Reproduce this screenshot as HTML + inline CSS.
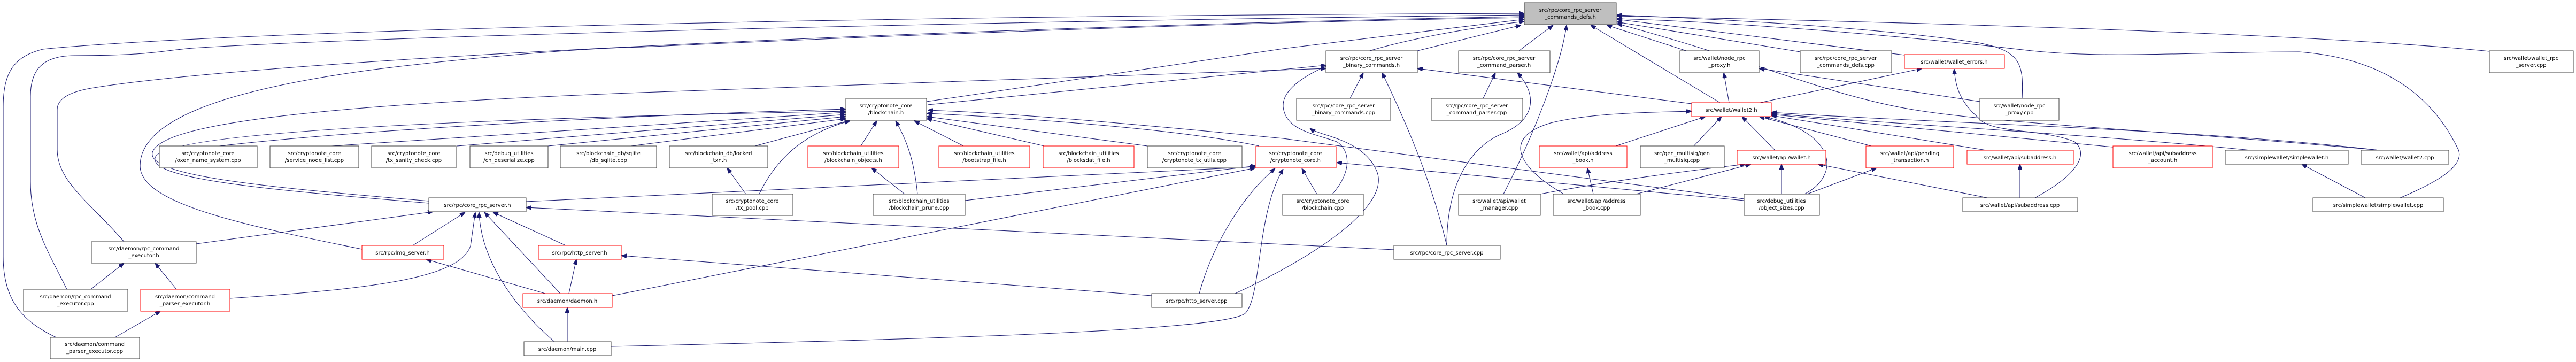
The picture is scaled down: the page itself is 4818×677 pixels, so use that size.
<!DOCTYPE html>
<html><head><meta charset="utf-8"><style>
html,body{margin:0;padding:0;background:#fff;}
svg{display:block;}
text{font-family:"DejaVu Sans","Liberation Sans",sans-serif;font-size:10px;fill:#000;}
.e{fill:none;stroke:#191970;stroke-width:1;}
.n{fill:#fff;stroke:#404040;stroke-width:1;}
.r{fill:#fff;stroke:#ff0000;stroke-width:1;}
</style></head><body>
<svg width="4818" height="677" viewBox="0 0 4818 677" xmlns="http://www.w3.org/2000/svg">
<defs><marker id="a" markerUnits="userSpaceOnUse" markerWidth="10" markerHeight="8" refX="10" refY="4" orient="auto"><path d="M0,0 L10,4 L0,8 z" fill="#191970" stroke="#191970"/></marker></defs>
<g class="e" marker-end="url(#a)">
<!-- to commands_defs.h -->
<path d="M2651,95 L2845,47"/>
<path d="M2841,95 L2905,47"/>
<path d="M3154,95 L3005,47"/>
<path d="M3367,97 L3024,41"/>
<path d="M3217,192 L2975,47"/>
<path d="M2812,363 C2870,250 2920,120 2930,47"/>
<path d="M3562,103 L3024,36"/>
<path d="M4656,96 C4300,60 3500,40 3024,30"/>
<path d="M4489,370 C4560,340 4610,310 4598,280 C4560,200 4480,110 4300,97 C4100,97 3950,110 3800,95 C3500,60 3200,40 3024,35"/>
<path d="M3782,184 C3785,120 3780,95 3700,80 C3500,50 3200,35 3024,28"/>
<path d="M4451,281 C4000,240 3700,230 3550,200 C3400,170 3300,120 3024,44"/>
<path d="M1733,190 L2400,91 L2851,36"/>
<path d="M105,631 C40,600 6,560 6,480 L6,200 C6,130 30,105 80,92 C400,60 1500,30 2851,25"/>
<path d="M125,541 C90,470 57,420 57,340 L57,180 C57,130 80,104 140,104 C280,104 300,95 360,90 C700,68 1800,40 2851,28"/>
<path d="M232,452 C170,380 107,340 107,280 L107,205 C107,185 130,172 170,165 C500,110 1800,50 2851,31"/>
<path d="M677,466 C450,420 262,380 262,310 C262,230 400,170 700,130 C900,105 1100,90 1200,88 C1800,60 2400,40 2851,33"/>
<path d="M2492,363 C2530,320 2525,280 2500,265 C2460,250 2405,245 2400,200 C2395,130 2600,70 2851,40"/>
<path d="M2310,549 C2480,470 2600,380 2575,320 C2550,260 2470,255 2450,240"/>
<!-- to binary_commands.h -->
<path d="M1735,196 L2480,122"/>
<path d="M802,376 C500,350 275,330 285,285 C300,240 500,200 1200,173 L2480,128"/>
<path d="M2525,184 L2550,136"/>
<path d="M2706,459 C2680,350 2640,250 2585,136"/>
<path d="M3164,194 L2651,128"/>
<!-- command_parser.h -->
<path d="M2774,184 L2797,136"/>
<path d="M2706,459 C2706,330 2760,270 2810,250 C2880,220 2870,170 2838,136"/>
<!-- blockchain.h -->
<path d="M802,380 C500,355 280,335 290,295 C300,255 700,225 1582,208"/>
<path d="M410,273 C700,240 1200,215 1582,204"/>
<path d="M620,273 L1582,210"/>
<path d="M855,273 L1582,214"/>
<path d="M1025,273 L1582,218"/>
<path d="M1180,273 L1582,222"/>
<path d="M1412,273 L1590,225"/>
<path d="M1420,363 C1450,300 1500,250 1590,226"/>
<path d="M1610,273 L1640,226"/>
<path d="M1716,363 C1710,300 1695,260 1675,226"/>
<path d="M1802,273 L1710,226"/>
<path d="M1953,273 L1733,222"/>
<path d="M2146,273 L1733,218"/>
<path d="M2355,273 C2200,240 1900,220 1733,212"/>
<path d="M3262,372 L2400,259 C2100,230 1900,212 1735,206"/>
<path d="M1395,363 L1360,314"/>
<path d="M1692,363 L1630,314"/>
<!-- cryptonote_core.h -->
<path d="M984,377 L2348,312"/>
<path d="M1145,553 L2348,314"/>
<path d="M1805,375 L2350,310"/>
<path d="M2243,549 C2270,450 2330,360 2385,315"/>
<path d="M2463,363 L2435,315"/>
<path d="M3262,375 L2500,304"/>
<path d="M1143,648 C1700,635 2300,620 2330,585 C2360,550 2350,400 2400,316"/>
<!-- core_rpc_server.h -->
<path d="M2607,467 L984,388"/>
<path d="M367,456 L810,396"/>
<path d="M772,459 L870,397"/>
<path d="M430,558 C700,540 860,520 880,460 L889,397"/>
<path d="M1037,639 C980,590 900,500 896,397"/>
<path d="M1048,549 L906,397"/>
<path d="M1058,459 L922,397"/>
<path d="M170,541 L232,492"/>
<path d="M330,541 L290,492"/>
<path d="M215,631 L300,582"/>
<path d="M1020,549 L797,485"/>
<path d="M1064,549 L1078,485"/>
<path d="M1061,639 L1061,575"/>
<path d="M2154,553 L1162,478"/>
<!-- wallet2.h etc -->
<path d="M3234,192 L3224,136"/>
<path d="M3292,192 L3595,128"/>
<path d="M3703,190 L3290,128"/>
<path d="M3022,273 L3190,218"/>
<path d="M3168,273 L3220,218"/>
<path d="M3320,281 L3258,218"/>
<path d="M3500,273 L3290,218"/>
<path d="M3375,363 C3440,330 3440,250 3300,218"/>
<path d="M2925,363 C2850,320 2800,260 2900,230 C2980,210 3100,210 3164,208"/>
<path d="M3715,281 L3313,216"/>
<path d="M3952,275 L3313,214"/>
<path d="M4210,281 C3900,250 3500,230 3313,212"/>
<path d="M4450,281 C4100,240 3600,230 3313,210"/>
<path d="M3806,370 C3880,330 3910,290 3880,265 C3820,240 3720,250 3700,220 C3665,190 3657,160 3655,129"/>
<path d="M2881,363 C3000,340 3150,320 3265,307"/>
<path d="M2980,363 L2969,314"/>
<path d="M3060,363 L3275,307"/>
<path d="M3332,363 L3332,307"/>
<path d="M3380,363 L3510,314"/>
<path d="M3717,370 L3400,307"/>
<path d="M3778,370 L3778,307"/>
<path d="M4424,370 L4305,307"/>
</g>
<g>
<rect x="2851" y="5" width="172" height="41" fill="#bfbfbf" stroke="#404040"/><text x="2937" y="22" text-anchor="middle">src/rpc/core_rpc_server</text><text x="2937" y="35" text-anchor="middle">_commands_defs.h</text>
<rect class="n" x="2480" y="95" width="171" height="41"/><text x="2565" y="112" text-anchor="middle">src/rpc/core_rpc_server</text><text x="2565" y="125" text-anchor="middle">_binary_commands.h</text>
<rect class="n" x="2728" y="95" width="171" height="41"/><text x="2813" y="112" text-anchor="middle">src/rpc/core_rpc_server</text><text x="2813" y="125" text-anchor="middle">_command_parser.h</text>
<rect class="n" x="3142" y="95" width="148" height="41"/><text x="3216" y="112" text-anchor="middle">src/wallet/node_rpc</text><text x="3216" y="125" text-anchor="middle">_proxy.h</text>
<rect class="n" x="3367" y="95" width="171" height="41"/><text x="3452" y="112" text-anchor="middle">src/rpc/core_rpc_server</text><text x="3452" y="125" text-anchor="middle">_commands_defs.cpp</text>
<rect class="r" x="3562" y="102" width="187" height="26"/><text x="3655" y="119" text-anchor="middle">src/wallet/wallet_errors.h</text>
<rect class="n" x="4656" y="95" width="157" height="41"/><text x="4734" y="112" text-anchor="middle">src/wallet/wallet_rpc</text><text x="4734" y="125" text-anchor="middle">_server.cpp</text>
<rect class="n" x="1582" y="184" width="151" height="41"/><text x="1657" y="201" text-anchor="middle">src/cryptonote_core</text><text x="1657" y="214" text-anchor="middle">/blockchain.h</text>
<rect class="n" x="2425" y="184" width="176" height="41"/><text x="2513" y="201" text-anchor="middle">src/rpc/core_rpc_server</text><text x="2513" y="214" text-anchor="middle">_binary_commands.cpp</text>
<rect class="n" x="2677" y="184" width="171" height="41"/><text x="2762" y="201" text-anchor="middle">src/rpc/core_rpc_server</text><text x="2762" y="214" text-anchor="middle">_command_parser.cpp</text>
<rect class="r" x="3164" y="192" width="149" height="26"/><text x="3238" y="209" text-anchor="middle">src/wallet/wallet2.h</text>
<rect class="n" x="3703" y="184" width="148" height="41"/><text x="3777" y="201" text-anchor="middle">src/wallet/node_rpc</text><text x="3777" y="214" text-anchor="middle">_proxy.cpp</text>
<rect class="n" x="298" y="273" width="183" height="41"/><text x="389" y="290" text-anchor="middle">src/cryptonote_core</text><text x="389" y="303" text-anchor="middle">/oxen_name_system.cpp</text>
<rect class="n" x="505" y="273" width="166" height="41"/><text x="588" y="290" text-anchor="middle">src/cryptonote_core</text><text x="588" y="303" text-anchor="middle">/service_node_list.cpp</text>
<rect class="n" x="695" y="273" width="158" height="41"/><text x="774" y="290" text-anchor="middle">src/cryptonote_core</text><text x="774" y="303" text-anchor="middle">/tx_sanity_check.cpp</text>
<rect class="n" x="879" y="273" width="146" height="41"/><text x="952" y="290" text-anchor="middle">src/debug_utilities</text><text x="952" y="303" text-anchor="middle">/cn_deserialize.cpp</text>
<rect class="n" x="1048" y="273" width="180" height="41"/><text x="1138" y="290" text-anchor="middle">src/blockchain_db/sqlite</text><text x="1138" y="303" text-anchor="middle">/db_sqlite.cpp</text>
<rect class="n" x="1252" y="273" width="184" height="41"/><text x="1344" y="290" text-anchor="middle">src/blockchain_db/locked</text><text x="1344" y="303" text-anchor="middle">_txn.h</text>
<rect class="r" x="1511" y="273" width="170" height="41"/><text x="1596" y="290" text-anchor="middle">src/blockchain_utilities</text><text x="1596" y="303" text-anchor="middle">/blockchain_objects.h</text>
<rect class="r" x="1756" y="273" width="170" height="41"/><text x="1841" y="290" text-anchor="middle">src/blockchain_utilities</text><text x="1841" y="303" text-anchor="middle">/bootstrap_file.h</text>
<rect class="r" x="1951" y="273" width="170" height="41"/><text x="2036" y="290" text-anchor="middle">src/blockchain_utilities</text><text x="2036" y="303" text-anchor="middle">/blocksdat_file.h</text>
<rect class="n" x="2146" y="273" width="177" height="41"/><text x="2234" y="290" text-anchor="middle">src/cryptonote_core</text><text x="2234" y="303" text-anchor="middle">/cryptonote_tx_utils.cpp</text>
<rect class="r" x="2348" y="274" width="151" height="40"/><text x="2423" y="290" text-anchor="middle">src/cryptonote_core</text><text x="2423" y="303" text-anchor="middle">/cryptonote_core.h</text>
<rect class="r" x="2879" y="273" width="164" height="41"/><text x="2961" y="290" text-anchor="middle">src/wallet/api/address</text><text x="2961" y="303" text-anchor="middle">_book.h</text>
<rect class="n" x="3068" y="273" width="157" height="41"/><text x="3146" y="290" text-anchor="middle">src/gen_multisig/gen</text><text x="3146" y="303" text-anchor="middle">_multisig.cpp</text>
<rect class="r" x="3249" y="281" width="166" height="26"/><text x="3332" y="298" text-anchor="middle">src/wallet/api/wallet.h</text>
<rect class="r" x="3490" y="273" width="164" height="41"/><text x="3572" y="290" text-anchor="middle">src/wallet/api/pending</text><text x="3572" y="303" text-anchor="middle">_transaction.h</text>
<rect class="r" x="3679" y="281" width="199" height="26"/><text x="3778" y="298" text-anchor="middle">src/wallet/api/subaddress.h</text>
<rect class="r" x="3952" y="273" width="186" height="41"/><text x="4045" y="290" text-anchor="middle">src/wallet/api/subaddress</text><text x="4045" y="303" text-anchor="middle">_account.h</text>
<rect class="n" x="4162" y="281" width="230" height="26"/><text x="4277" y="298" text-anchor="middle">src/simplewallet/simplewallet.h</text>
<rect class="n" x="4416" y="281" width="164" height="26"/><text x="4498" y="298" text-anchor="middle">src/wallet/wallet2.cpp</text>
<rect class="n" x="1332" y="363" width="151" height="40"/><text x="1407" y="379" text-anchor="middle">src/cryptonote_core</text><text x="1407" y="392" text-anchor="middle">/tx_pool.cpp</text>
<rect class="n" x="1633" y="363" width="172" height="40"/><text x="1719" y="379" text-anchor="middle">src/blockchain_utilities</text><text x="1719" y="392" text-anchor="middle">/blockchain_prune.cpp</text>
<rect class="n" x="2399" y="363" width="151" height="40"/><text x="2474" y="379" text-anchor="middle">src/cryptonote_core</text><text x="2474" y="392" text-anchor="middle">/blockchain.cpp</text>
<rect class="n" x="2728" y="363" width="153" height="40"/><text x="2804" y="379" text-anchor="middle">src/wallet/api/wallet</text><text x="2804" y="392" text-anchor="middle">_manager.cpp</text>
<rect class="n" x="2905" y="363" width="163" height="40"/><text x="2986" y="379" text-anchor="middle">src/wallet/api/address</text><text x="2986" y="392" text-anchor="middle">_book.cpp</text>
<rect class="n" x="3262" y="363" width="141" height="40"/><text x="3332" y="379" text-anchor="middle">src/debug_utilities</text><text x="3332" y="392" text-anchor="middle">/object_sizes.cpp</text>
<rect class="n" x="802" y="370" width="182" height="26"/><text x="893" y="387" text-anchor="middle">src/rpc/core_rpc_server.h</text>
<rect class="n" x="3671" y="370" width="215" height="26"/><text x="3778" y="387" text-anchor="middle">src/wallet/api/subaddress.cpp</text>
<rect class="n" x="4326" y="370" width="244" height="26"/><text x="4448" y="387" text-anchor="middle">src/simplewallet/simplewallet.cpp</text>
<rect class="n" x="171" y="452" width="196" height="40"/><text x="269" y="468" text-anchor="middle">src/daemon/rpc_command</text><text x="269" y="481" text-anchor="middle">_executor.h</text>
<rect class="r" x="677" y="459" width="153" height="26"/><text x="753" y="476" text-anchor="middle">src/rpc/lmq_server.h</text>
<rect class="r" x="1007" y="459" width="155" height="26"/><text x="1084" y="476" text-anchor="middle">src/rpc/http_server.h</text>
<rect class="n" x="2607" y="459" width="199" height="26"/><text x="2706" y="476" text-anchor="middle">src/rpc/core_rpc_server.cpp</text>
<rect class="n" x="44" y="541" width="195" height="41"/><text x="141" y="558" text-anchor="middle">src/daemon/rpc_command</text><text x="141" y="571" text-anchor="middle">_executor.cpp</text>
<rect class="r" x="263" y="541" width="167" height="41"/><text x="346" y="558" text-anchor="middle">src/daemon/command</text><text x="346" y="571" text-anchor="middle">_parser_executor.h</text>
<rect class="r" x="978" y="549" width="167" height="26"/><text x="1061" y="566" text-anchor="middle">src/daemon/daemon.h</text>
<rect class="n" x="2154" y="549" width="169" height="26"/><text x="2238" y="566" text-anchor="middle">src/rpc/http_server.cpp</text>
<rect class="n" x="94" y="631" width="167" height="40"/><text x="177" y="647" text-anchor="middle">src/daemon/command</text><text x="177" y="660" text-anchor="middle">_parser_executor.cpp</text>
<rect class="n" x="980" y="639" width="163" height="26"/><text x="1061" y="656" text-anchor="middle">src/daemon/main.cpp</text>
</g>
</svg>
</body></html>
